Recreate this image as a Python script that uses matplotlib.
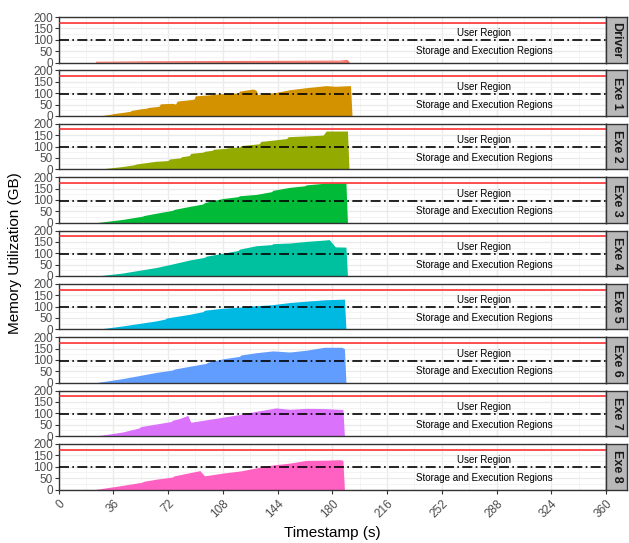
import matplotlib
matplotlib.use("Agg")
import matplotlib.pyplot as plt
import numpy as np

plt.rcParams['font.family'] = ['Liberation Sans', 'DejaVu Sans']

panels = ["Driver", "Exe 1", "Exe 2", "Exe 3", "Exe 4", "Exe 5", "Exe 6", "Exe 7", "Exe 8"]
colors = ["#F8766D", "#D39200", "#93AA00", "#00BA38", "#00C19F", "#00B9E3", "#619CFF", "#DB72FB", "#FF61C3"]

t_driver = [25, 60, 100, 150, 185, 189, 190, 191]
v_driver = [1, 3, 4, 5, 6, 9, 9, 0]

t_exe1 = [27, 35, 36, 42, 47, 48, 53, 58, 59, 66, 67, 75, 77, 78, 89, 90, 100, 108, 118, 119, 128, 130, 131, 143, 152, 163, 176, 182, 192, 193]
v_exe1 = [0, 8, 10, 15, 20, 24, 30, 34, 37, 42, 53, 55, 52, 65, 73, 88, 93, 98, 100, 109, 118, 112, 94, 103, 115, 124, 133, 130, 133, 0]

t_exe2 = [26, 42, 50, 51, 64, 72, 73, 80, 81, 86, 87, 95, 96, 101, 102, 110, 111, 119, 120, 132, 133, 150, 151, 174, 176, 190, 191]
v_exe2 = [0, 12, 20, 23, 35, 38, 45, 50, 55, 60, 70, 75, 79, 83, 88, 92, 94, 98, 104, 112, 122, 135, 143, 150, 168, 168, 0]

t_exe3 = [25, 42, 55, 56, 64, 75, 76, 86, 95, 96, 108, 118, 119, 130, 140, 141, 152, 162, 163, 175, 189, 190]
v_exe3 = [0, 14, 28, 31, 41, 54, 58, 71, 82, 88, 106, 114, 118, 124, 136, 142, 155, 162, 166, 173, 174, 0]

t_exe4 = [25, 42, 64, 75, 86, 96, 97, 108, 118, 119, 130, 140, 141, 152, 163, 175, 178, 182, 189, 190]
v_exe4 = [0, 13, 37, 53, 70, 82, 87, 100, 112, 118, 133, 138, 142, 145, 152, 158, 160, 128, 127, 0]

t_exe5 = [25, 42, 64, 70, 71, 86, 95, 96, 108, 120, 130, 140, 152, 165, 175, 188, 189]
v_exe5 = [0, 15, 37, 45, 50, 66, 78, 84, 93, 98, 104, 108, 118, 125, 130, 133, 0]

t_exe6 = [24, 42, 64, 75, 76, 86, 97, 98, 108, 119, 120, 130, 141, 152, 163, 175, 186, 188, 189]
v_exe6 = [0, 18, 45, 56, 60, 72, 85, 90, 105, 116, 122, 132, 140, 135, 143, 156, 156, 150, 0]

t_exe7 = [24, 42, 53, 54, 64, 74, 75, 79, 85, 87, 108, 120, 130, 143, 152, 163, 175, 187, 188]
v_exe7 = [0, 18, 36, 42, 53, 64, 70, 76, 91, 61, 83, 96, 109, 124, 118, 122, 121, 117, 0]

t_exe8 = [24, 42, 55, 56, 64, 75, 76, 82, 93, 96, 108, 120, 130, 141, 152, 163, 175, 185, 187, 188]
v_exe8 = [0, 18, 32, 36, 45, 55, 60, 68, 83, 60, 72, 82, 95, 108, 116, 128, 129, 131, 128, 0]

series_t = [t_driver, t_exe1, t_exe2, t_exe3, t_exe4, t_exe5, t_exe6, t_exe7, t_exe8]
series_v = [v_driver, v_exe1, v_exe2, v_exe3, v_exe4, v_exe5, v_exe6, v_exe7, v_exe8]

user_limit = 175
storage_limit = 97
x_ticks = [0, 36, 72, 108, 144, 180, 216, 252, 288, 324, 360]
y_ticks = [0, 50, 100, 150, 200]

W, H = 629, 543
fig = plt.figure(figsize=(W / 100, H / 100), dpi=100)

left_px, right_px = 58.5, 606
strip_w = 21
top0, step, ph = 17, 53.375, 45.5

for i, name in enumerate(panels):
    top = top0 + i * step
    ax = fig.add_axes([left_px / W, 1 - (top + ph) / H, (right_px - left_px) / W, ph / H])
    ax.set_xlim(0, 360)
    ax.set_ylim(0, 200)
    ax.set_xticks(x_ticks)
    ax.set_xticks(np.arange(18, 360, 36), minor=True)
    ax.set_yticks(y_ticks)
    ax.set_yticks([25, 75, 125, 175], minor=True)
    ax.grid(True, which='major', color='#EBEBEB', lw=1.0)
    ax.grid(True, which='minor', color='#F2F2F2', lw=0.6)
    ax.set_axisbelow(True)
    ax.fill_between(series_t[i], series_v[i], 0, color=colors[i], lw=0, zorder=2)
    if i == 0:
        ax.plot(series_t[i], series_v[i], color=colors[i], lw=0.8, zorder=2)
    ax.axhline(user_limit, color='#FF2020', lw=1.1, zorder=3)
    ax.axhline(storage_limit, color='black', lw=1.2, dashes=(6, 2, 1, 2), zorder=3)
    ax.text(280, 128, "User Region", ha='center', va='center', fontsize=7, color='black', zorder=4)
    ax.text(280, 50, "Storage and Execution Regions", ha='center', va='center', fontsize=7, color='black', zorder=4)
    for s in ax.spines.values():
        s.set_color('#333333')
        s.set_linewidth(1.0)
    ax.tick_params(axis='both', which='major', length=3, width=0.8, color='#333333', labelcolor='#4D4D4D', labelsize=8.5, pad=1)
    ax.tick_params(axis='both', which='minor', length=0)
    if i < len(panels) - 1:
        ax.tick_params(axis='x', labelbottom=False, length=0)
    else:
        ax.set_xticklabels([str(v) for v in x_ticks], rotation=45, ha='right', va='top', rotation_mode='anchor')
        ax.tick_params(axis='x', pad=3)
        ax.set_xlabel("Timestamp (s)", fontsize=11, color='black', labelpad=4)
    # strip
    sax = fig.add_axes([right_px / W, 1 - (top + ph) / H, strip_w / W, ph / H])
    sax.set_facecolor('#B8B8B8')
    sax.set_xticks([])
    sax.set_yticks([])
    for s in sax.spines.values():
        s.set_color('#333333')
        s.set_linewidth(1.0)
    sax.text(0.5, 0.5, name, rotation=-90, ha='center', va='center', fontsize=9, fontweight='bold', color='#1A1A1A', transform=sax.transAxes)

fig.text(15 / W, 1 - 253 / H, "Memory Utilization (GB)", rotation=90, ha='center', va='center', fontsize=11, color='black')

fig.savefig("out.png", dpi=100)
